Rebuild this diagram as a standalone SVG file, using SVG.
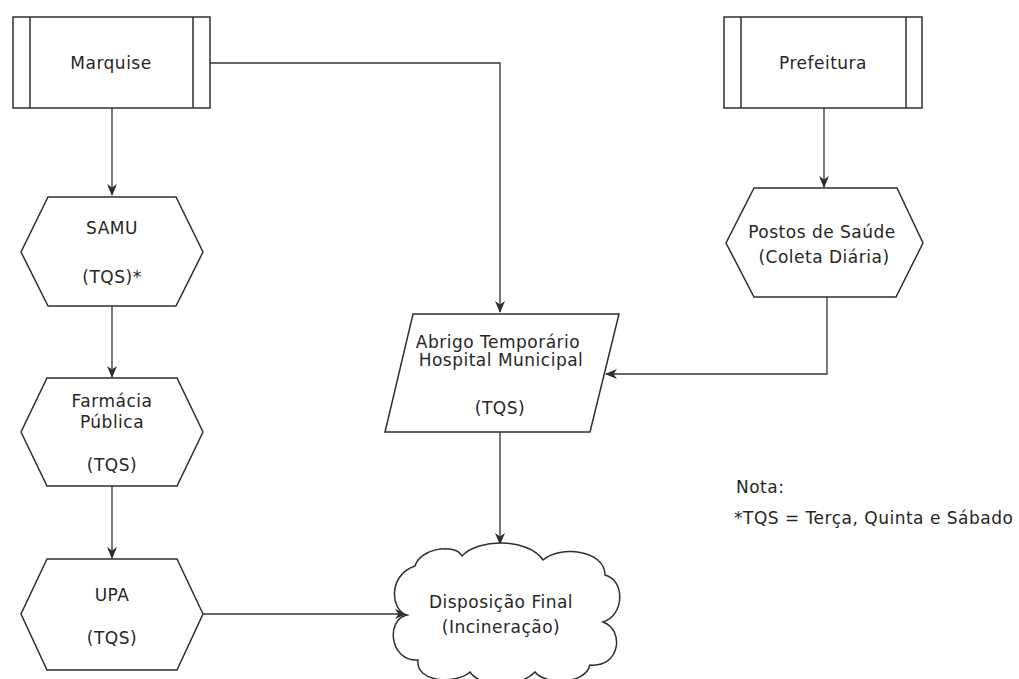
<svg xmlns="http://www.w3.org/2000/svg" width="1019" height="679" viewBox="0 0 1019 679">
<style>
  .shape { fill: #ffffff; stroke: #2e2e2e; stroke-width: 1.5; }
  .inner { stroke: #2e2e2e; stroke-width: 1.5; fill: none; }
  .conn { fill: none; stroke: #333333; stroke-width: 1.3; }
  text { font-family: "DejaVu Sans", "Liberation Sans", sans-serif; font-size: 17px; fill: #262626; letter-spacing: 0.5px; }
  .c { text-anchor: middle; }
</style>
<defs>
  <marker id="arr" viewBox="0 0 12 10" refX="11" refY="5" markerWidth="12" markerHeight="10" markerUnits="userSpaceOnUse" orient="auto">
    <path d="M0,0 L12,5 L0,10 L3.5,5 Z" fill="#2e2e2e"/>
  </marker>
</defs>
<rect width="1019" height="679" fill="#ffffff"/>

<g id="connectors">
  <path class="conn" d="M112,108 V195" marker-end="url(#arr)"/>
  <path class="conn" d="M210,63 H500 V312" marker-end="url(#arr)"/>
  <path class="conn" d="M112,306 V377" marker-end="url(#arr)"/>
  <path class="conn" d="M112,486 V558" marker-end="url(#arr)"/>
  <path class="conn" d="M203,614 H406" marker-end="url(#arr)"/>
  <path class="conn" d="M824,108 V187" marker-end="url(#arr)"/>
  <path class="conn" d="M827,297 V374 H606" marker-end="url(#arr)"/>
  <path class="conn" d="M500,432 V544" marker-end="url(#arr)"/>
</g>

<g id="marquise">
  <rect class="shape" x="13" y="17" width="197" height="91"/>
  <line class="inner" x1="30" y1="17" x2="30" y2="108"/>
  <line class="inner" x1="193" y1="17" x2="193" y2="108"/>
  <text class="c" x="111" y="69">Marquise</text>
</g>

<g id="samu">
  <polygon class="shape" points="48,197 176,197 203,252 176,306 48,306 21,252"/>
  <text class="c" x="112" y="234">SAMU</text>
  <text class="c" x="112" y="283">(TQS)*</text>
</g>

<g id="farmacia">
  <polygon class="shape" points="47,378 177,378 203,432 177,486 47,486 21,432"/>
  <text class="c" x="112" y="407">Farmácia</text>
  <text class="c" x="112" y="428">Pública</text>
  <text class="c" x="112" y="471">(TQS)</text>
</g>

<g id="upa">
  <polygon class="shape" points="47,559 177,559 203,614 177,670 47,670 21,614"/>
  <text class="c" x="112" y="601">UPA</text>
  <text class="c" x="112" y="644">(TQS)</text>
</g>

<g id="abrigo">
  <polygon class="shape" points="413,314 619,314 590,432 385,432"/>
  <text class="c" x="498" y="348">Abrigo Temporário</text>
  <text class="c" x="501" y="366">Hospital Municipal</text>
  <text class="c" x="500" y="414">(TQS)</text>
</g>

<g id="disposicao">
  <path class="shape" d="M407,615 C390,610 388,575 415,566 C420,548 455,543 462,556 C478,538 528,538 543,560 C560,545 605,550 605,575 C625,580 625,615 603,622 C625,630 620,668 590,665 C585,685 545,685 535,672 C520,688 480,688 470,672 C455,685 415,682 418,660 C390,662 385,620 407,615 Z"/>
  <text class="c" x="501" y="608">Disposição Final</text>
  <text class="c" x="501" y="633">(Incineração)</text>
</g>

<g id="prefeitura">
  <rect class="shape" x="724" y="17" width="198" height="91"/>
  <line class="inner" x1="741" y1="17" x2="741" y2="108"/>
  <line class="inner" x1="906" y1="17" x2="906" y2="108"/>
  <text class="c" x="823" y="69">Prefeitura</text>
</g>

<g id="postos">
  <polygon class="shape" points="754,188 897,188 923,243 896,297 754,297 726,243"/>
  <text class="c" x="822" y="238">Postos de Saúde</text>
  <text class="c" x="824" y="263">(Coleta Diária)</text>
</g>

<g id="nota">
  <text x="736" y="493">Nota:</text>
  <text x="734" y="524">*TQS = Terça, Quinta e Sábado</text>
</g>
</svg>
